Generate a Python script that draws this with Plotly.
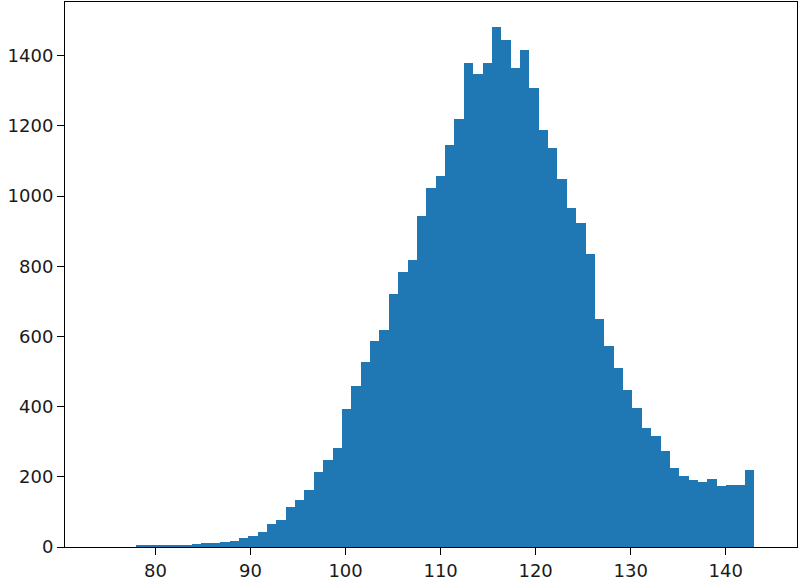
import plotly.graph_objects as go

# Histogram data (pre-binned counts)
bin_start = 77.93
bin_width = 70 / 71
counts = [3, 4, 4, 5, 5, 6, 9, 10, 10, 15, 16, 26, 30, 43, 65, 77, 114, 135, 163, 215,
          249, 283, 393, 460, 527, 586, 619, 720, 783, 818, 943, 1023, 1058, 1145, 1221,
          1378, 1349, 1378, 1482, 1444, 1365, 1415, 1309, 1188, 1138, 1048, 965, 923, 835,
          650, 573, 510, 448, 397, 338, 317, 274, 224, 203, 190, 186, 194, 173, 177, 177, 219]
x_ticks = [80, 90, 100, 110, 120, 130, 140]
y_ticks = [0, 200, 400, 600, 800, 1000, 1200, 1400]

centers = [bin_start + bin_width * (i + 0.5) for i in range(len(counts))]

fig = go.Figure(go.Bar(
    x=centers, y=counts, width=[bin_width] * len(counts),
    marker=dict(color="#1f77b4", line=dict(width=0)),
))

axis_common = dict(
    showline=True, linecolor="black", linewidth=1, mirror=True,
    ticks="outside", ticklen=7, tickwidth=1, tickcolor="black",
    showgrid=False, zeroline=False,
    tickfont=dict(family="DejaVu Sans", size=18, color="#1a1a1a"),
)

fig.update_layout(
    width=800, height=580,
    margin=dict(l=65, r=3, t=2, b=33, autoexpand=False),
    paper_bgcolor="white", plot_bgcolor="white",
    bargap=0, showlegend=False,
    xaxis=dict(range=[70.48, 147.5], tickvals=x_ticks, **axis_common),
    yaxis=dict(range=[0, 1553], tickvals=y_ticks, **axis_common),
)

fig.write_html(
    "out.html",
    config={"displayModeBar": False},
    post_script="document.body.style.margin='0';document.body.style.overflow='hidden';",
)
